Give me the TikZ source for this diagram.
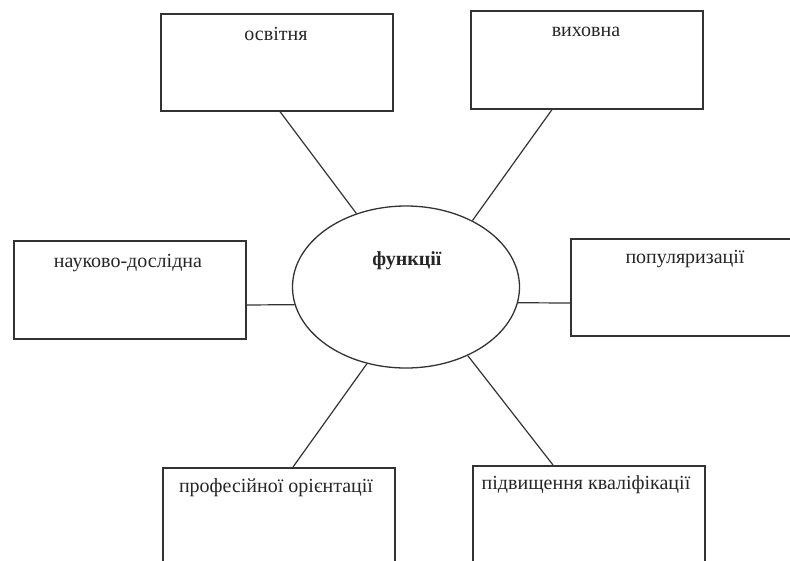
\documentclass[tikz,border=0pt]{standalone}
\usepackage{fontspec}
\setmainfont{Liberation Serif}
\usetikzlibrary{shapes.geometric}
\begin{document}
\begin{tikzpicture}[x=1pt,y=-1pt,
  fbox/.style={draw=black!80, line width=1.6pt, rectangle, inner sep=0pt, anchor=north west, minimum width=232pt},
  lbl/.style={font=\fontsize{20}{22}\selectfont, text=black!85, inner sep=0pt},
  conn/.style={draw=black!80, line width=1.2pt}]
\clip (0,0) rectangle (790,560);
\fill[white] (0,0) rectangle (790,560);
% boxes
\node[fbox, minimum height=97pt] (a) at (160,13) {};
\node[fbox, minimum height=98pt] (b) at (470,10) {};
\node[fbox, minimum height=98pt] (c) at (13,240) {};
\node[fbox, minimum height=97pt, minimum width=240pt] (d) at (570,238) {};
\node[fbox, minimum height=95pt] (p) at (162,467) {};
\node[fbox, minimum height=97pt] (f) at (472,465) {};
% ellipse
\node[ellipse, draw=black!80, line width=1.3pt, minimum width=227pt, minimum height=162pt, inner sep=0pt] (e) at (406,287) {};
% labels
\node[lbl] (ta) at (276,34) {освітня};
\node[lbl] (tb) at (586,32) {виховна};
\node[lbl] (tc) at (128,263) {науково-дослідна};
\node[lbl] (td) at (685,259) {популяризації};
\node[lbl] (tp) at (276,488) {професійної орієнтації};
\node[lbl] (tf) at (586,485) {підвищення кваліфікації};
\node[lbl, font=\fontsize{20}{22}\selectfont\bfseries] (te) at (407,261) {функції};
% connectors
\draw[conn] ([xshift=120pt]a.south west) -- (e.124);
\draw[conn] ([xshift=82pt]b.south west) -- (e.45.4);
\draw[conn] ([yshift=-65pt]c.north east) -- (e.189);
\draw[conn] ([yshift=-65pt]d.north west) -- (e.352);
\draw[conn] ([xshift=131pt]p.north west) -- (e.243.4);
\draw[conn] ([xshift=81pt]f.north west) -- (e.312);
\end{tikzpicture}
\end{document}
